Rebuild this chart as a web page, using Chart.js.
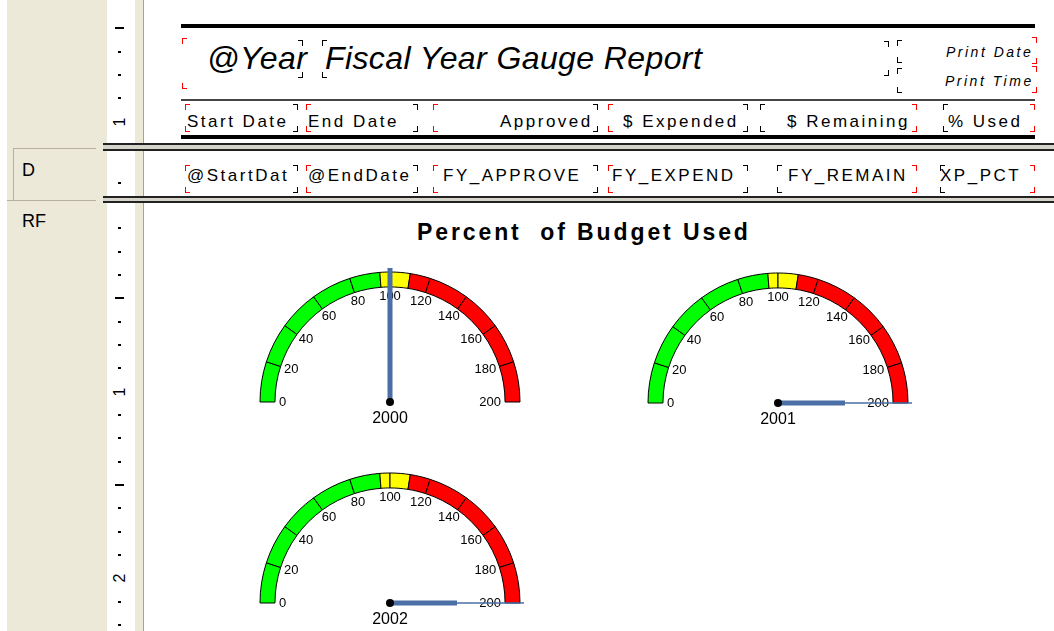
<!DOCTYPE html>
<html>
<head>
<meta charset="utf-8">
<title>Fiscal Year Gauge Report</title>
<script src="https://cdn.jsdelivr.net/npm/chart.js@4.4.1/dist/chart.umd.min.js"></script>
<style>
  html, body { margin: 0; padding: 0; }
  body { width: 1054px; height: 631px; overflow: hidden; position: relative; background: #fff;
         font-family: "Liberation Sans", Arial, sans-serif; color: #000; }
  .a { position: absolute; white-space: pre; line-height: 1; }
  .fld { font-size: 17px; letter-spacing: 2.5px; }
  .pt { font-size: 14px; font-style: italic; letter-spacing: 2.5px; }
  .ttl { font-size: 32px; font-style: italic; letter-spacing: 0.4px; }
  canvas { position: absolute; }
</style>
</head>
<body>
<!-- designer chrome -->
<div class="a" style="left:7px;top:0;width:100px;height:631px;background:#ece9d8"></div>
<div class="a" style="left:135px;top:0;width:8px;height:631px;background:#ece9d8;border-right:1px solid #a7a392"></div>
<div class="a" style="left:13px;top:148px;width:83px;height:1px;background:#b5b19e"></div>
<div class="a" style="left:13px;top:148px;width:1px;height:52px;background:#b5b19e"></div>
<div class="a" style="left:7px;top:200px;width:89px;height:1px;background:#b5b19e"></div>
<div class="a" style="left:22px;top:161px;font-size:18px">D</div>
<div class="a" style="left:22px;top:212px;font-size:18px">RF</div>
<div id="ruler"></div>

<div class="a" style="left:181px;top:24px;width:854px;height:4px;background:#000"></div>
<div class="a" style="left:181px;top:99px;width:854px;height:2px;background:#444"></div>
<div class="a" style="left:181px;top:135px;width:854px;height:4px;background:#000"></div>
<div class="a" style="left:103px;top:143px;width:951px;height:8px;box-sizing:border-box;background:#d6d3ca;border-top:2px solid #222;border-bottom:2px solid #222"></div>
<div class="a" style="left:103px;top:196px;width:951px;height:7px;box-sizing:border-box;background:#d6d3ca;border-top:2px solid #222;border-bottom:2px solid #222"></div>

<div class="a ttl" style="left:207px;top:42px">@Year</div>
<div class="a ttl" style="left:325px;top:42px">Fiscal Year Gauge Report</div>
<div class="a pt" style="left:946px;top:45px">Print Date</div>
<div class="a pt" style="left:945px;top:74px">Print Time</div>

<div class="a fld" style="left:187px;top:113px">Start Date</div>
<div class="a fld" style="left:308px;top:113px">End Date</div>
<div class="a fld" style="left:500px;top:113px">Approved</div>
<div class="a fld" style="left:623px;top:113px">$ Expended</div>
<div class="a fld" style="left:787px;top:113px">$ Remaining</div>
<div class="a fld" style="left:948px;top:113px">% Used</div>

<div class="a fld" style="left:187px;top:167px">@StartDat</div>
<div class="a fld" style="left:308px;top:167px">@EndDate</div>
<div class="a fld" style="left:443px;top:167px">FY_APPROVE</div>
<div class="a fld" style="left:612px;top:167px">FY_EXPEND</div>
<div class="a fld" style="left:788px;top:167px">FY_REMAIN</div>
<div class="a fld" style="left:940px;top:167px">XP_PCT</div>

<div class="a" style="left:417px;top:221px;font-size:23px;font-weight:bold;letter-spacing:2.9px">Percent  of Budget Used</div>

<canvas id="g0" width="280" height="175" style="left:250px;top:263px"></canvas>
<canvas id="g1" width="280" height="175" style="left:638px;top:264px"></canvas>
<canvas id="g2" width="280" height="175" style="left:250px;top:464px"></canvas>

<script>
// gauge data
const years = ['2000', '2001', '2002'];
const pctUsed = [100, 200, 200];
const gaugeMax = 200;
const bandSizes = [20, 20, 20, 20, 15, 5, 10, 10, 20, 20, 20, 20];
const bandColors = ['#00ff00', '#00ff00', '#00ff00', '#00ff00', '#00ff00',
                    '#ffff00', '#ffff00',
                    '#ff0000', '#ff0000', '#ff0000', '#ff0000', '#ff0000'];
const tickValues = [0, 20, 40, 60, 80, 100, 120, 140, 160, 180, 200];
const tickLabels = ['0', '20', '40', '60', '80', '100', '120', '140', '160', '180', '200'];

// ruler ticks down the side
const ruler = document.getElementById('ruler');
[[-65, 15, 141], [160, 152, 195], [205, 204, 631]].forEach(([origin, from, to]) => {
    for (let k = 1; origin + k * 23.333 < to; k++) {
        const y = origin + k * 23.333;
        if (y < from) continue;
        const d = document.createElement('div');
        d.className = 'a';
        if (k % 8 === 0) {
            d.textContent = String(k / 8);
            d.style.cssText = `left:113px;top:${y - 8}px;width:14px;height:16px;font-size:16px;text-align:center;transform:rotate(-90deg)`;
        } else if (k % 4 === 0) {
            d.style.cssText = `left:115px;top:${y - 1}px;width:9px;height:2px;background:#000`;
        } else {
            d.style.cssText = `left:118px;top:${y - 1}px;width:3px;height:2px;background:#000`;
        }
        ruler.appendChild(d);
    }
});

// field corner marks in the designer
function mark(x, y, corner, color) {
    const d = document.createElement('div');
    d.className = 'a';
    const b = `1px solid ${color}`;
    let css = 'width:4px;height:5px;';
    if (corner[0] === 't') css += `top:${y}px;border-top:${b};`; else css += `top:${y - 6}px;border-bottom:${b};`;
    if (corner[1] === 'l') css += `left:${x}px;border-left:${b};`; else css += `left:${x - 5}px;border-right:${b};`;
    d.style.cssText = css;
    document.body.appendChild(d);
}
const R = '#ff0000', K = '#000';
[[182, 38, 'tl', R], [182, 89, 'bl', R], [303, 40, 'tr', K], [303, 78, 'br', K],
 [322, 40, 'tl', K], [322, 78, 'bl', K],
 [889, 41, 'tr', K], [897, 40, 'tl', K], [897, 63, 'bl', K], [889, 76, 'br', K], [897, 68, 'tl', K], [897, 93, 'bl', K],
 [1037, 37, 'tr', R], [1037, 64, 'br', R], [1037, 66, 'tr', R], [1037, 93, 'br', R]].forEach(m => mark(...m));
[[104, 132], [165, 193]].forEach(([t, b]) => {
    [[185, 'l', R], [298, 'r', K], [306, 'l', R], [418, 'r', K], [433, 'l', R], [598, 'r', K],
     [608, 'l', R], [748, 'r', K], [t < 150 ? 760 : 777, 'l', K], [917, 'r', R], [t < 150 ? 943 : 940, 'l', K], [1035, 'r', R]]
        .forEach(([x, side, c]) => { mark(x, t, 't' + side, c); mark(x, b, 'b' + side, c); });
});

// scale labels, needle and year drawn onto the half doughnut
const gaugePlugin = {
    id: 'gauge',
    afterDatasetsDraw(chart, args, opts) {
        const ctx = chart.ctx;
        const arcs = chart.getDatasetMeta(0).data;
        const first = arcs[0], last = arcs[arcs.length - 1];
        const cx = first.x, cy = first.y;
        const start = first.startAngle, end = last.endAngle;
        const angleOf = v => start + (Math.min(v, gaugeMax) / gaugeMax) * (end - start);

        ctx.save();
        ctx.fillStyle = '#000';
        ctx.font = '13px "Liberation Sans", Arial, sans-serif';
        ctx.textAlign = 'center';
        ctx.textBaseline = 'middle';
        const r = first.innerRadius - 4;
        tickValues.forEach((v, i) => {
            const a = angleOf(v);
            const w = ctx.measureText(tickLabels[i]).width;
            const x = cx + r * Math.cos(a) - Math.cos(a) * w / 2;
            const y = cy + r * Math.sin(a) - Math.sin(a) * 5;
            ctx.fillText(tickLabels[i], x, y);
        });

        // needle
        const a = angleOf(opts.value);
        const len = first.outerRadius + 4;
        ctx.strokeStyle = '#4a6fa5';
        ctx.lineCap = 'butt';
        if (opts.value >= gaugeMax) {
            ctx.lineWidth = 5;
            ctx.beginPath();
            ctx.moveTo(cx, cy);
            ctx.lineTo(cx + len * 0.5 * Math.cos(a), cy + len * 0.5 * Math.sin(a));
            ctx.stroke();
            ctx.lineWidth = 1.5;
            ctx.beginPath();
            ctx.moveTo(cx + len * 0.5 * Math.cos(a), cy + len * 0.5 * Math.sin(a));
            ctx.lineTo(cx + len * Math.cos(a), cy + len * Math.sin(a));
            ctx.stroke();
        } else {
            ctx.lineWidth = 5;
            ctx.beginPath();
            ctx.moveTo(cx, cy);
            ctx.lineTo(cx + len * Math.cos(a), cy + len * Math.sin(a));
            ctx.stroke();
        }
        ctx.beginPath();
        ctx.arc(cx, cy, 4, 0, Math.PI * 2);
        ctx.fill();

        ctx.font = '16px "Liberation Sans", Arial, sans-serif';
        ctx.fillText(opts.label, cx, cy + 17);
        ctx.restore();
    }
};

years.forEach((year, i) => {
    new Chart(document.getElementById('g' + i), {
        type: 'doughnut',
        data: {
            labels: bandSizes.map((s, j) => 'band ' + (j + 1)),
            datasets: [{
                data: bandSizes,
                backgroundColor: bandColors,
                borderColor: '#000',
                borderWidth: 1
            }]
        },
        options: {
            responsive: false,
            animation: false,
            events: [],
            rotation: -90,
            circumference: 180,
            cutout: '88.5%',
            radius: 130,
            layout: { padding: { left: 9, right: 9, top: 6, bottom: 33 } },
            plugins: {
                legend: { display: false },
                tooltip: { enabled: false },
                gauge: { value: pctUsed[i], label: year }
            }
        },
        plugins: [gaugePlugin]
    });
});
</script>
</body>
</html>
